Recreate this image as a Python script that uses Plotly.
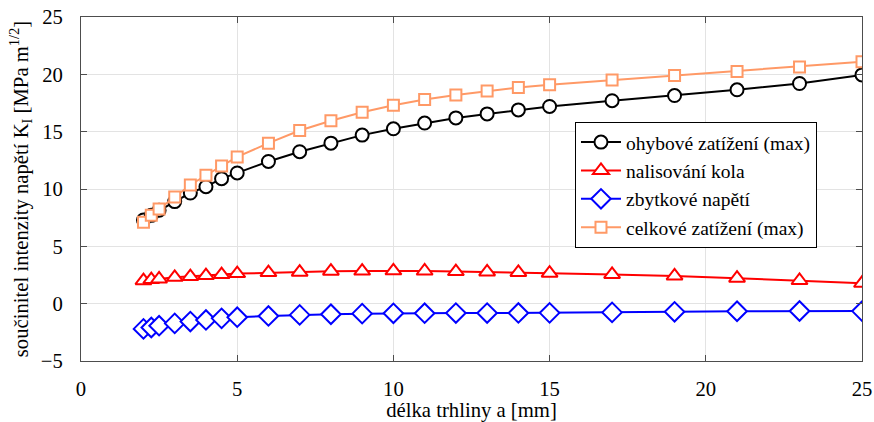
import plotly.graph_objects as go

# crack length a [mm]
a_mm = [2, 2.25, 2.5, 3, 3.5, 4, 4.5, 5, 6, 7, 8, 9, 10, 11, 12, 13, 14, 15, 17, 19, 21, 23, 25]

# stress intensity factor K_I [MPa m^1/2] for each load case
k_ohyb = [7.3, 7.7, 8.15, 8.9, 9.65, 10.2, 10.9, 11.4, 12.4, 13.25, 14.0, 14.7,
          15.25, 15.75, 16.2, 16.55, 16.9, 17.2, 17.7, 18.15, 18.65, 19.2, 19.95]
k_nalis = [2.0, 2.1, 2.15, 2.3, 2.36, 2.45, 2.54, 2.62, 2.71, 2.75, 2.83, 2.84,
           2.86, 2.85, 2.8, 2.77, 2.72, 2.66, 2.55, 2.42, 2.22, 2.02, 1.78]
k_zbytk = [-2.2, -2.08, -1.92, -1.72, -1.56, -1.42, -1.28, -1.18, -1.07, -0.98, -0.92, -0.87,
           -0.84, -0.83, -0.82, -0.82, -0.81, -0.8, -0.76, -0.71, -0.66, -0.64, -0.65]
k_celk = [7.1, 7.7, 8.25, 9.3, 10.35, 11.2, 12.0, 12.8, 14.0, 15.1, 15.95, 16.7,
          17.3, 17.8, 18.2, 18.55, 18.85, 19.1, 19.5, 19.9, 20.25, 20.65, 21.1]

series_names = ["ohybové zatížení (max)", "nalisování kola", "zbytkové napětí", "celkové zatížení (max)"]
x_ticks = [0, 5, 10, 15, 20, 25]
y_ticks = [-5, 0, 5, 10, 15, 20, 25]

FONT = "Liberation Serif"
FS = 20.7
AX = "#4d4d4d"

styles = [
    (k_ohyb, "#000000", "circle", 13),
    (k_nalis, "#ff0000", "triangle-up", 14),
    (k_zbytk, "#0000ff", "diamond", 15),
    (k_celk, "#ff9966", "square", 11),
]

fig = go.Figure()
for name, (vals, color, sym, size) in zip(series_names, styles):
    fig.add_trace(go.Scatter(
        x=a_mm, y=vals, name=name, mode="lines+markers",
        line=dict(color=color, width=2),
        marker=dict(symbol=sym, size=size, color="white",
                    line=dict(color=color, width=2)),
    ))

axis_common = dict(
    showline=True, linecolor=AX, linewidth=1, mirror="ticks",
    ticks="inside", ticklen=6, tickcolor=AX, tickwidth=1,
    showgrid=True, gridcolor="#e3e3e3", gridwidth=1, zeroline=False,
    automargin=False,
    tickfont=dict(family=FONT, size=FS, color="#000"),
)

fig.update_xaxes(range=[0, 25], tickvals=x_ticks, ticklabelstandoff=9,
                 title=dict(text="délka trhliny a [mm]", font=dict(family=FONT, size=FS, color="#000"),
                            standoff=11),
                 **axis_common)
fig.update_yaxes(range=[-5, 25], tickvals=y_ticks, ticklabelstandoff=13,
                 title=dict(text="součinitel intenzity napětí K<sub>I</sub> [MPa m<sup>1/2</sup>]",
                            font=dict(family=FONT, size=FS, color="#000"), standoff=6),
                 **axis_common)

fig.update_layout(
    width=874, height=422,
    margin=dict(l=81, r=12, t=17, b=61, autoexpand=False),
    paper_bgcolor="white", plot_bgcolor="white",
    showlegend=True,
    legend=dict(x=0.6325, y=0.695, xanchor="left", yanchor="top",
                bgcolor="white", bordercolor="#000", borderwidth=1,
                font=dict(family=FONT, size=19.5, color="#000"),
                tracegroupgap=0, itemwidth=40),
)

fig.write_html("out.html")
